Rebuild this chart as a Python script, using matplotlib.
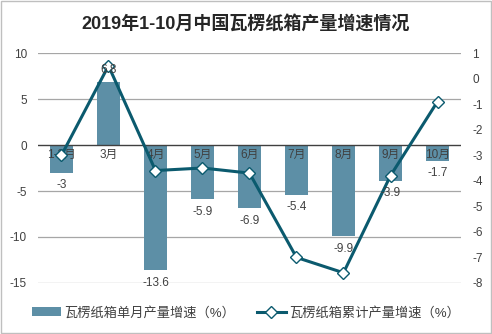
import matplotlib
matplotlib.use('Agg')
import matplotlib.pyplot as plt
from matplotlib.patches import Rectangle
from matplotlib.lines import Line2D
from matplotlib.patches import Patch
import numpy as np

plt.rcParams['font.family'] = ['Liberation Sans', 'Noto Sans CJK SC', 'DejaVu Sans']

months = ['1-2月', '3月', '4月', '5月', '6月', '7月', '8月', '9月', '10月']
monthly_growth = [-3, 6.8, -13.6, -5.9, -6.9, -5.4, -9.9, -3.9, -1.7]
cumulative_growth = [-3.0, 0.5, -3.6, -3.5, -3.7, -7.0, -7.6, -3.8, -0.9]
left_ticks = [10, 5, 0, -5, -10, -15]
right_ticks = list(range(-8, 2))

bar_color = '#5D8FA6'
line_color = '#0B5A6E'
text_color = '#404040'

fig = plt.figure(figsize=(4.92, 3.34), dpi=100)
fig.patches.append(Rectangle((0.002, 0.003), 0.995, 0.994, transform=fig.transFigure,
                             fill=False, edgecolor='#BFBFBF', linewidth=1.0))
ax = fig.add_axes([0.0772, 0.1527, 0.8598, 0.6886])

x = np.arange(len(months))
ax.bar(x, monthly_growth, width=0.5, color=bar_color, zorder=2)
ax.set_xlim(-0.5, len(months) - 0.5)
ax.set_ylim(-15, 10)
ax.set_yticks(left_ticks)
ax.set_yticklabels([str(t) for t in left_ticks])
ax.set_xticks([])
for t in left_ticks:
    if t != 0:
        ax.axhline(t, color='#A6A6A6', linewidth=0.9, zorder=1)
ax.axhline(0, color='#404040', linewidth=1.0, zorder=3)
for s in ax.spines.values():
    s.set_visible(False)
ax.tick_params(axis='y', length=0, labelsize=8.5, labelcolor=text_color, pad=8)

for i, m in enumerate(months):
    ax.annotate(m, (i, 0), xytext=(0, -3), textcoords='offset points',
                ha='center', va='top', fontsize=8.5, color=text_color, zorder=4)

ax2 = ax.twinx()
ax2.plot(x, cumulative_growth, color=line_color, linewidth=2.2, marker='D',
         markersize=6.5, markerfacecolor='white', markeredgecolor=line_color,
         markeredgewidth=1.0, zorder=5)
ax2.set_ylim(-8, 1)
ax2.set_yticks(right_ticks)
ax2.set_yticklabels([str(t) for t in right_ticks])
for s in ax2.spines.values():
    s.set_visible(False)
ax2.tick_params(axis='y', length=0, labelsize=8.5, labelcolor=text_color, pad=8)

# value labels above everything, positioned on the bar scale
for i, v in enumerate(monthly_growth):
    off = 9 if v > 0 else -9
    ax2.annotate(f'{v:g}', (i, v), xycoords=ax.transData, xytext=(0, off),
                 textcoords='offset points', ha='center', va='center',
                 fontsize=8.5, color=text_color, zorder=6)

fig.text(0.5, 0.93, '2019年1-10月中国瓦楞纸箱产量增速情况', ha='center', va='center',
         fontsize=13, fontweight='bold', color='#262626')

handles = [Patch(facecolor=bar_color, edgecolor='none'),
           Line2D([0], [0], color=line_color, linewidth=2.2, marker='D', markersize=6,
                  markerfacecolor='white', markeredgecolor=line_color)]
fig.legend(handles, ['瓦楞纸箱单月产量增速（%）', '瓦楞纸箱累计产量增速（%）'],
           loc='center', bbox_to_anchor=(0.5, 0.063), ncol=2, frameon=False,
           fontsize=9.5, labelcolor=text_color, handlelength=2.2, handletextpad=0.3,
           columnspacing=1.6)

fig.savefig('out.png', dpi=100)
